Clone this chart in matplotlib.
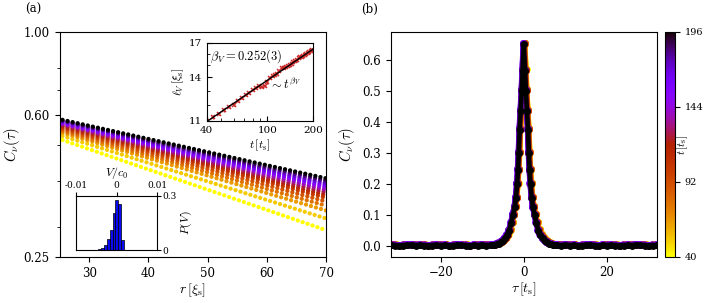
import numpy as np
import matplotlib
matplotlib.use("Agg")
import matplotlib.pyplot as plt
from matplotlib import ticker, colors, cm

plt.rcParams['font.family'] = ['DejaVu Serif']
plt.rcParams['mathtext.fontset'] = 'cm'
plt.rcParams['lines.scale_dashes'] = False

# ---------------------------------------------------------------------------
# data
# ---------------------------------------------------------------------------

# times of the curves, t [t_s]
times = [40, 52, 64, 76, 88, 100, 112, 124, 136, 148, 160, 172, 184, 196]

# panel (a): C_nu(r) is straight on the log axis, first and last point per curve
r_first, r_last = 25.5, 70.0
C_first = [0.514, 0.527, 0.537, 0.543, 0.549, 0.554, 0.559, 0.563,
           0.567, 0.570, 0.573, 0.577, 0.579, 0.582]
C_last = [0.295, 0.317, 0.333, 0.343, 0.352, 0.360, 0.366, 0.372,
          0.378, 0.384, 0.389, 0.394, 0.400, 0.406]

# inset (a): growth of l_V
t_inset = [40, 44, 48, 52, 56, 60, 64, 68, 72, 76, 80, 84, 88, 92, 96, 100,
           104, 108, 112, 116, 120, 124, 128, 132, 136, 140, 144, 148, 152,
           156, 160, 164, 168, 172, 176, 180, 184, 188, 192, 196]
ell_V = [10.97, 11.23, 11.44, 11.66, 11.90, 12.02, 12.28, 12.50, 12.72, 12.86,
         13.05, 13.22, 13.32, 13.28, 13.36, 13.62, 13.98, 14.10, 14.22, 14.30,
         14.50, 14.72, 14.80, 14.86, 14.95, 14.98, 15.10, 15.27, 15.35, 15.40,
         15.58, 15.66, 15.70, 15.76, 15.88, 15.95, 16.02, 16.10, 16.20, 16.36]
fit_t = [40, 200]
fit_ell = [10.94, 16.42]

# inset (a): histogram of V/c0
V_bins = [-0.00555, -0.00485, -0.00415, -0.00345, -0.00275, -0.00205,
          -0.00135, -0.00065, 0.00005, 0.00075, 0.00145]
P_V = [0.001, 0.002, 0.004, 0.011, 0.026, 0.059, 0.110, 0.202, 0.276,
       0.254, 0.055]

# panel (b): C_nu(tau) for tau >= 0 (mirrored to tau < 0)
tau_half = [0, 0.3, 0.5, 0.75, 1.0, 1.2, 1.4, 1.6, 1.9, 2.2, 2.6, 3.0, 3.5,
            4.0, 4.5, 5.0, 5.5, 6.0, 6.5, 7.0, 7.5, 8, 9, 10, 11, 12, 13, 14,
            15, 16, 17, 18, 19, 20, 21, 22, 23, 24, 25, 26, 27, 28, 29, 30,
            31, 32]
C_half = [0.650, 0.565, 0.500, 0.435, 0.375, 0.300, 0.245, 0.200, 0.155,
          0.125, 0.100, 0.075, 0.050, 0.035, 0.025, 0.018, 0.012, 0.008,
          0.006, 0.004, 0.003, 0.003, 0.002, 0.004, 0.002, 0.003, 0.001,
          0.002, 0.003, 0.004, 0.002, 0.001, 0.003, 0.002, 0.003, 0.002,
          0.001, 0.002, 0.003, 0.002, 0.004, 0.003, 0.002, 0.001, 0.002,
          0.003]
# small sideways / vertical offsets of each curve in panel (b)
tau_shift = [0.35, 0.30, 0.30, 0.25, 0.20, 0.15, 0.10, 0.0, -0.10, -0.20,
             -0.25, -0.20, -0.10, 0.0]
C_shift = [0.004, 0.003, 0.004, 0.002, 0.003, 0.001, 0.002, 0.003, 0.004,
           0.002, 0.003, 0.002, 0.001, 0.0]

# ---------------------------------------------------------------------------

cmap = plt.get_cmap('gnuplot_r')
norm = colors.Normalize(vmin=40, vmax=196)

fig = plt.figure(figsize=(7.06, 3.03), dpi=100)

# ---- panel (a) -------------------------------------------------------------
ax1 = fig.add_axes([0.0843, 0.1518, 0.3775, 0.7426])
for k, t in enumerate(times):
    ax1.plot([r_first, r_last], [C_first[k], C_last[k]], color=cmap(norm(t)),
             lw=3.1, ls=(0, (0.01, 3.72)), dash_capstyle='round')
ax1.set_yscale('log')
ax1.set_xlim(25, 70)
ax1.set_ylim(0.25, 1.0)
ax1.yaxis.set_major_locator(ticker.FixedLocator([0.25, 0.6, 1.0]))
ax1.yaxis.set_major_formatter(ticker.FixedFormatter(['0.25', '0.60', '1.00']))
ax1.yaxis.set_minor_locator(ticker.FixedLocator([0.3, 0.4, 0.5, 0.7, 0.8]))
ax1.yaxis.set_minor_formatter(ticker.NullFormatter())
ax1.set_xticks([30, 40, 50, 60, 70])
ax1.tick_params(labelsize=8.5)
ax1.set_xlabel(r'$r\,[\xi_\mathrm{s}]$', fontsize=10, labelpad=1)
ax1.set_ylabel(r'$C_\nu(\tau)$', fontsize=10.5, labelpad=1)

# inset: l_V(t)
axi = fig.add_axes([0.2928, 0.6017, 0.151, 0.2574])
axi.errorbar(t_inset, ell_V, yerr=0.1, fmt='x', color='#cc2a2a', ms=3.2,
             mew=1.1, elinewidth=0.9, zorder=2)
axi.plot(fit_t, fit_ell, color='k', lw=1.0, zorder=3)
axi.set_xscale('log')
axi.set_yscale('log')
axi.set_xlim(40, 200)
axi.set_ylim(11, 17)
axi.xaxis.set_major_locator(ticker.FixedLocator([40, 100, 200]))
axi.xaxis.set_major_formatter(ticker.FixedFormatter(['40', '100', '200']))
axi.xaxis.set_minor_locator(ticker.FixedLocator([50, 60, 70, 80, 90]))
axi.xaxis.set_minor_formatter(ticker.NullFormatter())
axi.yaxis.set_major_locator(ticker.FixedLocator([11, 14, 17]))
axi.yaxis.set_major_formatter(ticker.FixedFormatter(['11', '14', '17']))
axi.yaxis.set_minor_locator(ticker.FixedLocator([12, 13, 15, 16]))
axi.yaxis.set_minor_formatter(ticker.NullFormatter())
axi.tick_params(which='both', direction='in', labelsize=7.5)
axi.set_xlabel(r'$t\,[t_\mathrm{s}]$', fontsize=8.5, labelpad=2)
axi.set_ylabel(r'$\ell_V\,[\xi_\mathrm{s}]$', fontsize=8.5, labelpad=2)
axi.text(0.03, 0.83, r'$\beta_V = 0.252(3)$', transform=axi.transAxes,
         fontsize=9, va='center', ha='left')
axi.text(0.58, 0.46, r'$\sim t^{\beta_V}$', transform=axi.transAxes,
         fontsize=9, va='center', ha='left')

# inset: P(V)
axh = fig.add_axes([0.1076, 0.1749, 0.1152, 0.1792])
axh.bar(V_bins, P_V, width=0.0007, color='#0a0af0', edgecolor='k', lw=0.5)
axh.set_xlim(-0.01, 0.01)
axh.set_ylim(0, 0.3)
axh.xaxis.tick_top()
axh.xaxis.set_label_position('top')
axh.yaxis.tick_right()
axh.yaxis.set_label_position('right')
axh.set_xticks([-0.01, 0, 0.01])
axh.set_xticklabels(['-0.01', '0', '0.01'])
axh.set_yticks([0, 0.3])
axh.set_yticklabels(['0', '0.3'])
axh.tick_params(labelsize=6.5, pad=1.0, length=3)
axh.set_xlabel(r'$V/c_0$', fontsize=8.5, labelpad=3.5)
axh.set_ylabel(r'$P(V)$', fontsize=8.5, labelpad=1)

# ---- panel (b) -------------------------------------------------------------
ax2 = fig.add_axes([0.5534, 0.1528, 0.3772, 0.7426])
tau_full = np.concatenate([-np.array(tau_half[::-1]), np.array(tau_half[1:])])
C_full = np.concatenate([np.array(C_half[::-1]), np.array(C_half[1:])])
for k, t in enumerate(times):
    ax2.plot(tau_full + tau_shift[k], C_full + C_shift[k], '-o',
             color=cmap(norm(t)), lw=3.2, ms=5.0, mew=0)
ax2.set_xlim(-32, 32)
ax2.set_ylim(-0.034, 0.69)
ax2.set_xticks([-20, 0, 20])
ax2.set_yticks([0.0, 0.1, 0.2, 0.3, 0.4, 0.5, 0.6])
ax2.tick_params(labelsize=8.5)
ax2.set_xlabel(r'$\tau\,[t_\mathrm{s}]$', fontsize=10, labelpad=1)
ax2.set_ylabel(r'$C_\nu(\tau)$', fontsize=10.5)

cax = fig.add_axes([0.9424, 0.1528, 0.0133, 0.7426])
sm = cm.ScalarMappable(norm=norm, cmap=cmap)
cb = fig.colorbar(sm, cax=cax, ticks=[40, 92, 144, 196])
cb.ax.tick_params(labelsize=7)
# colour-bar label sits just right of the bar, between the tick labels
fig.text(682 / 706, 1 - 145 / 303, r'$t\,[t_\mathrm{s}]$', fontsize=8,
         rotation=90, ha='center', va='center')

fig.text(33 / 706, 1 - 9 / 303, '(a)', fontsize=8.5, ha='center', va='center')
fig.text(370 / 706, 1 - 9 / 303, '(b)', fontsize=8.5, ha='center', va='center')

fig.savefig('out.png', dpi=100)
